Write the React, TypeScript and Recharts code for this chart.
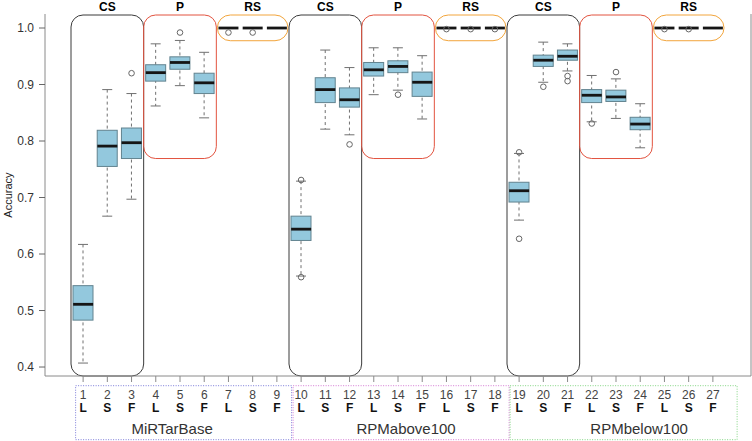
import { ComposedChart, Bar, Scatter, XAxis, YAxis, ReferenceArea, Label } from 'recharts'

// one box per model, 27 in all
const ids = ['1', '2', '3', '4', '5', '6', '7', '8', '9', '10', '11', '12', '13', '14', '15', '16', '17', '18', '19', '20', '21', '22', '23', '24', '25', '26', '27']
const methods = ['L', 'S', 'F', 'L', 'S', 'F', 'L', 'S', 'F', 'L', 'S', 'F', 'L', 'S', 'F', 'L', 'S', 'F', 'L', 'S', 'F', 'L', 'S', 'F', 'L', 'S', 'F']

const whiskerLow = [0.407, 0.667, 0.697, 0.862, 0.898, 0.841, 1.0, 1.0, 1.0, 0.561, 0.821, 0.811, 0.882, 0.890, 0.839, 1.0, 1.0, 1.0, 0.660, 0.904, 0.924, 0.834, 0.840, 0.788, 1.0, 1.0, 1.0]
const lowerQuartile = [0.483, 0.755, 0.769, 0.906, 0.927, 0.884, 1.0, 1.0, 1.0, 0.624, 0.868, 0.860, 0.915, 0.921, 0.879, 1.0, 1.0, 1.0, 0.692, 0.932, 0.943, 0.868, 0.870, 0.820, 1.0, 1.0, 1.0]
const medians = [0.511, 0.791, 0.797, 0.921, 0.939, 0.903, 1.0, 1.0, 1.0, 0.644, 0.891, 0.873, 0.926, 0.932, 0.904, 1.0, 1.0, 1.0, 0.712, 0.943, 0.950, 0.881, 0.878, 0.830, 1.0, 1.0, 1.0]
const upperQuartile = [0.544, 0.819, 0.823, 0.935, 0.949, 0.920, 1.0, 1.0, 1.0, 0.667, 0.912, 0.894, 0.939, 0.942, 0.922, 1.0, 1.0, 1.0, 0.727, 0.952, 0.961, 0.891, 0.890, 0.842, 1.0, 1.0, 1.0]
const whiskerHigh = [0.617, 0.891, 0.884, 0.972, 0.978, 0.957, 1.0, 1.0, 1.0, 0.729, 0.961, 0.930, 0.965, 0.965, 0.951, 1.0, 1.0, 1.0, 0.778, 0.975, 0.972, 0.916, 0.910, 0.866, 1.0, 1.0, 1.0]
const outlierA = [null, null, 0.920, null, 0.992, null, 0.992, 0.992, null, 0.731, null, 0.794, null, 0.882, null, 0.998, 0.998, 0.998, 0.780, 0.896, 0.915, 0.831, 0.922, null, 0.998, 0.998, null]
const outlierB = [null, null, null, null, null, null, null, null, null, 0.559, null, null, null, null, null, null, null, null, 0.627, null, 0.906, null, null, null, null, null, null]

const yTicks = [0.4, 0.5, 0.6, 0.7, 0.8, 0.9, 1.0]
const datasets = ['MiRTarBase', 'RPMabove100', 'RPMbelow100']
const sections = ['CS', 'P', 'RS']

const yMin = 0.3841
const yMax = 1.0248

const rows = ids.map((id, i) => ({
  id,
  whisker: [whiskerLow[i], whiskerHigh[i]],
  box: [lowerQuartile[i], upperQuartile[i]],
  median: medians[i],
  outA: outlierA[i],
  outB: outlierB[i],
}))

// look of the rounded section frames
const sectionStyle: Record<string, { bottom: number; stroke: string; rx: number; inset: number }> = {
  CS: { bottom: yMin, stroke: '#3a3a3a', rx: 12, inset: 0 },
  P: { bottom: 0.769, stroke: '#e2533f', rx: 12, inset: 0 },
  RS: { bottom: 0.9775, stroke: '#f2a53c', rx: 13, inset: 1 },
}

// dotted boxes under the axis, offsets from the first tick of each dataset
const datasetFrames = [
  { color: '#7b7bd8', dx: -7.5, w: 216, tx: 89 },
  { color: '#d47ad4', dx: -8, w: 216, tx: 105 },
  { color: '#82d482', dx: -9, w: 227, tx: 120 },
]

const FONT = '"Liberation Sans", Arial, Helvetica, sans-serif'
const GRAY = '#8a8a8a'

const WhiskerShape = (p: any) => {
  const cx = p.x + p.width / 2
  const top = Math.min(p.y, p.y + p.height)
  const bottom = Math.max(p.y, p.y + p.height)
  return (
    <g>
      <line x1={cx} x2={cx} y1={top} y2={bottom} stroke="#707070" strokeDasharray="3 3" />
      <line x1={cx - 5} x2={cx + 5} y1={top} y2={top} stroke="#707070" />
      <line x1={cx - 5} x2={cx + 5} y1={bottom} y2={bottom} stroke="#707070" />
    </g>
  )
}

const BoxShape = (p: any) => {
  const top = Math.min(p.y, p.y + p.height)
  const h = Math.abs(p.height)
  return <rect x={p.x} y={top} width={p.width} height={h} fill="#93c8dd" stroke="#62838f" strokeWidth={1} />
}

const MedianShape = (p: any) => {
  if (p.cx == null || p.cy == null) return <g />
  return <line x1={p.cx - 10} x2={p.cx + 10} y1={p.cy} y2={p.cy} stroke="#151515" strokeWidth={2.8} />
}

const outlierShape = (key: string) => (p: any) => {
  if (p.payload?.[key] == null || p.cx == null || p.cy == null) return <g />
  return <circle cx={p.cx} cy={p.cy} r={2.8} fill="none" stroke="#666" strokeWidth={1} />
}

const SectionFrame = (style: { stroke: string; rx: number; inset: number }) => (p: any) => (
  <rect
    x={p.x + style.inset}
    y={p.y + 1}
    width={p.width - style.inset * 2}
    height={p.height - 1}
    rx={style.rx}
    ry={style.rx}
    fill="none"
    stroke={style.stroke}
    strokeWidth={1}
  />
)

const BottomTick = (p: any) => {
  const { x, y, payload } = p
  const i = ids.indexOf(String(payload.value))
  const g = Math.floor(i / 9)
  const frame = i % 9 === 0 ? datasetFrames[g] : null
  return (
    <g>
      <text x={x} y={y + 14.5} textAnchor="middle" fontSize={12} fill="#444">{payload.value}</text>
      <text x={x} y={y + 28} textAnchor="middle" fontSize={12} fontWeight="bold" fill="#111">{methods[i]}</text>
      {frame && (
        <g>
          <rect x={x + frame.dx} y={y + 1.7} width={frame.w} height={54} fill="none" stroke={frame.color} strokeDasharray="1 1.5" />
          <text x={x + frame.tx} y={y + 50} textAnchor="middle" fontSize={15} fill="#333">{datasets[g]}</text>
        </g>
      )}
    </g>
  )
}

const AxisTitle = (p: any) => {
  const vb = p.viewBox || { x: 5, y: 14, width: 40, height: 362 }
  const cx = vb.x + 7
  const cy = vb.y + vb.height / 2
  return (
    <text transform={`translate(${cx},${cy}) rotate(-90)`} textAnchor="middle" fontSize={11} fill="#222">Accuracy</text>
  )
}

export default function App() {
  const areas = []
  for (let d = 0; d < datasets.length; d++) {
    for (let s = 0; s < sections.length; s++) {
      const name = sections[s]
      const st = sectionStyle[name]
      areas.push(
        <ReferenceArea
          key={`${d}-${s}`}
          x1={ids[d * 9 + s * 3]}
          x2={ids[d * 9 + s * 3 + 2]}
          y1={st.bottom}
          y2={yMax}
          ifOverflow="visible"
          shape={SectionFrame(st)}
          label={{ value: name, position: 'top', offset: 3, fill: '#000', fontSize: 12, fontWeight: 'bold' }}
        />
      )
    }
  }

  return (
    <div style={{ position: 'absolute', left: 0, top: 0, fontFamily: FONT, background: '#fff' }}>
      <ComposedChart
        width={752}
        height={441}
        data={rows}
        margin={{ top: 14, right: 0, bottom: 0, left: 5 }}
        barGap={-20}
      >
        <XAxis
          dataKey="id"
          type="category"
          interval={0}
          padding={{ left: 26, right: 26 }}
          height={65}
          tickSize={6}
          tickLine={{ stroke: GRAY }}
          axisLine={{ stroke: GRAY }}
          tick={(p: any) => <BottomTick {...p} />}
        />
        <XAxis
          xAxisId="top"
          dataKey="id"
          type="category"
          orientation="top"
          padding={{ left: 26, right: 26 }}
          height={0}
          tick={false}
          tickLine={false}
          axisLine={{ stroke: GRAY }}
        />
        <YAxis
          type="number"
          domain={[yMin, yMax]}
          allowDataOverflow
          ticks={yTicks}
          width={40}
          tickSize={6}
          tickMargin={5}
          tickFormatter={(v: number) => v.toFixed(1)}
          tick={{ fontSize: 12, fill: '#333' }}
          tickLine={{ stroke: '#666' }}
          axisLine={{ stroke: GRAY }}
        >
          <Label content={AxisTitle} />
        </YAxis>
        <YAxis
          yAxisId="right"
          orientation="right"
          type="number"
          domain={[yMin, yMax]}
          allowDataOverflow
          width={1}
          tick={false}
          tickLine={false}
          axisLine={{ stroke: GRAY }}
        />
        {areas}
        <Bar dataKey="whisker" barSize={20} shape={WhiskerShape} isAnimationActive={false} />
        <Bar dataKey="box" barSize={20} shape={BoxShape} isAnimationActive={false} />
        <Scatter dataKey="median" shape={MedianShape} isAnimationActive={false} />
        <Scatter dataKey="outA" shape={outlierShape('outA')} isAnimationActive={false} />
        <Scatter dataKey="outB" shape={outlierShape('outB')} isAnimationActive={false} />
      </ComposedChart>
    </div>
  )
}
